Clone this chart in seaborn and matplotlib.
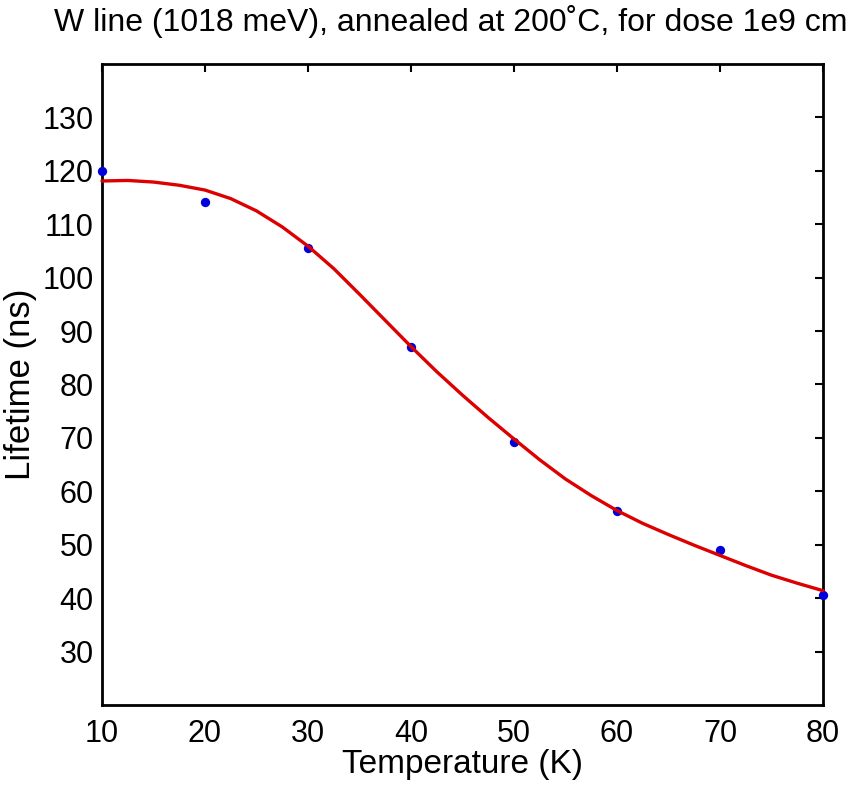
import matplotlib
matplotlib.use("Agg")
import matplotlib.pyplot as plt
from matplotlib import font_manager
import seaborn as sns
import pandas as pd

# ---- data ----
temp_meas = [10, 20, 30, 40, 50, 60, 70, 80]
life_meas = [120.0, 114.1, 105.5, 87.1, 69.3, 56.4, 49.1, 40.5]

temp_fit = [10, 12.5, 15, 17.5, 20, 22.5, 25, 27.5, 30, 32.5, 35, 37.5, 40,
            42.5, 45, 47.5, 50, 52.5, 55, 57.5, 60, 62.5, 65, 67.5, 70,
            72.5, 75, 77.5, 80]
life_fit = [118.1, 118.2, 117.9, 117.3, 116.4, 114.8, 112.5, 109.5, 105.9,
            101.7, 96.9, 92.0, 87.1, 82.4, 78.0, 73.8, 69.8, 65.9, 62.3,
            59.2, 56.4, 54.0, 51.9, 49.9, 48.0, 46.1, 44.3, 42.8, 41.4]

x_ticks = [10, 20, 30, 40, 50, 60, 70, 80]
y_ticks = [30, 40, 50, 60, 70, 80, 90, 100, 110, 120, 130]

title = "W line (1018 meV), annealed at 200˚C, for dose 1e9 cm"
xlabel = "Temperature (K)"
ylabel = "Lifetime (ns)"

sns.set_theme(style="white")
names = {f.name for f in font_manager.fontManager.ttflist}
fam = "Liberation Sans Narrow" if "Liberation Sans Narrow" in names else "Liberation Sans"
plt.rcParams["font.family"] = [fam, "DejaVu Sans"]

df_meas = pd.DataFrame({"T": temp_meas, "tau": life_meas})
df_fit = pd.DataFrame({"T": temp_fit, "tau": life_fit})

fig = plt.figure(figsize=(8.49, 7.90), dpi=100)
ax = fig.add_axes([102 / 849, 1 - 705 / 790, 721 / 849, 641 / 790])

sns.scatterplot(data=df_meas, x="T", y="tau", ax=ax, color="#0000dd",
                s=45, edgecolor="#0000dd", linewidth=0, zorder=3, clip_on=False)
sns.lineplot(data=df_fit, x="T", y="tau", ax=ax, color="#dd0000",
             linewidth=2.4, zorder=4, clip_on=False,
             solid_joinstyle="round", solid_capstyle="round")

ax.set_xlim(10, 80)
ax.set_ylim(20, 140)
ax.set_xticks(x_ticks)
ax.set_yticks(y_ticks)
ax.tick_params(direction="in", length=6, width=1.5, color="black",
               top=True, right=True, labelsize=22, pad=10, labelcolor="black")
ax.tick_params(axis="y", pad=6)
for s in ax.spines.values():
    s.set_visible(True)
    s.set_color("black")
    s.set_linewidth(2)

ax.set_xlabel(xlabel, fontsize=24, color="black", labelpad=0)
ax.set_ylabel(ylabel, fontsize=25, color="black", labelpad=4)
fig.text(54 / 849, 1 - 31 / 790, title, fontsize=23, ha="left",
         va="baseline", color="black")

fig.savefig("out.png", dpi=100, facecolor="white")
